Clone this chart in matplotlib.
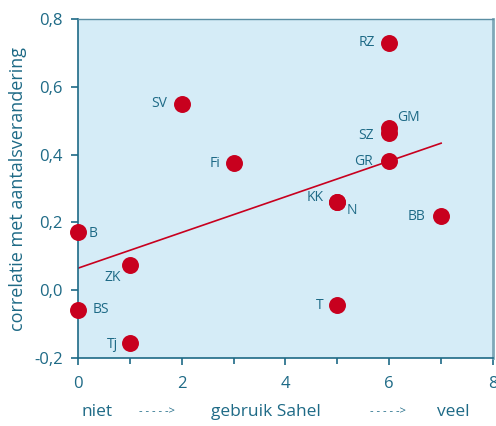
import matplotlib.pyplot as plt
from matplotlib.ticker import MultipleLocator

# data
labels = ['RZ', 'SV', 'GM', 'SZ', 'Fi', 'GR', 'KK', 'N', 'BB', 'B', 'ZK', 'BS', 'T', 'Tj']
gebruik = [6, 2, 6, 6, 3, 6, 5, 5, 7, 0, 1, 0, 5, 1]
correlatie = [0.73, 0.55, 0.48, 0.465, 0.375, 0.38, 0.26, 0.26, 0.218, 0.172, 0.074, -0.058, -0.044, -0.156]

# label offsets in pixels (dx, dy, ha)
offsets = {
    'RZ': (-14, 0, 'right'), 'SV': (-15, 0, 'right'), 'GM': (8, 10, 'left'),
    'SZ': (-15, -3, 'right'), 'Fi': (-13, 0, 'right'), 'GR': (-16, 0, 'right'),
    'KK': (-14, 5, 'right'), 'N': (9, -8, 'left'), 'BB': (-16, 0, 'right'),
    'B': (11, -2, 'left'), 'ZK': (-9, -12, 'right'), 'BS': (15, 0, 'left'),
    'T': (-14, 0, 'right'), 'Tj': (-12, -1, 'right'),
}

fit_x = [0, 7]
fit_y = [0.065, 0.434]

teal = '#1e6a86'
red = '#c8001e'
plt.rcParams['font.family'] = ['Open Sans', 'DejaVu Sans']

fig = plt.figure(figsize=(4.96, 4.26), dpi=100)
ax = fig.add_axes([0.157, 0.1596, 0.837, 0.7954])
ax.set_facecolor('#d5ecf7')

ax.plot(fit_x, fit_y, color=red, lw=1.2, zorder=2)
ax.scatter(gebruik, correlatie, s=125, color=red, zorder=3, clip_on=False)
for lab, x, y in zip(labels, gebruik, correlatie):
    dx, dy, ha = offsets[lab]
    ax.annotate(lab, (x, y), xytext=(dx, dy), textcoords='offset pixels',
                ha=ha, va='center', fontsize=10, color=teal)

ax.set_xlim(0, 8)
ax.set_ylim(-0.2, 0.8)
ax.xaxis.set_major_locator(MultipleLocator(2))
ax.xaxis.set_minor_locator(MultipleLocator(1))
ax.set_yticks([-0.2, 0.0, 0.2, 0.4, 0.6, 0.8])
ax.set_yticklabels(['-0,2', '0,0', '0,2', '0,4', '0,6', '0,8'])
ax.tick_params(axis='both', colors=teal, labelsize=12, length=5, width=1.2)
ax.tick_params(axis='x', which='minor', colors=teal, length=4, width=1.2)
ax.tick_params(axis='x', pad=8)
ax.tick_params(axis='y', pad=6)

for s in ['left', 'bottom']:
    ax.spines[s].set_color(teal)
    ax.spines[s].set_linewidth(1.2)
ax.spines['top'].set_color('#5a8ea3')
ax.spines['top'].set_linewidth(1.0)
ax.spines['right'].set_color('#7fa8b8')
ax.spines['right'].set_linewidth(2.0)

ax.set_ylabel('correlatie met aantalsverandering', color=teal, fontsize=13, labelpad=5)

# bottom explanation row
fig.text(97 / 496, 1 - 412 / 426, 'niet', color=teal, fontsize=12.5, ha='center', va='center')
fig.text(157 / 496, 1 - 412 / 426, '- - - - ->', color=teal, fontsize=8, ha='center', va='center')
fig.text(266 / 496, 1 - 412 / 426, 'gebruik Sahel', color=teal, fontsize=12.5, ha='center', va='center')
fig.text(388 / 496, 1 - 412 / 426, '- - - - ->', color=teal, fontsize=8, ha='center', va='center')
fig.text(453 / 496, 1 - 412 / 426, 'veel', color=teal, fontsize=12.5, ha='center', va='center')

fig.savefig('out.png', dpi=100)
